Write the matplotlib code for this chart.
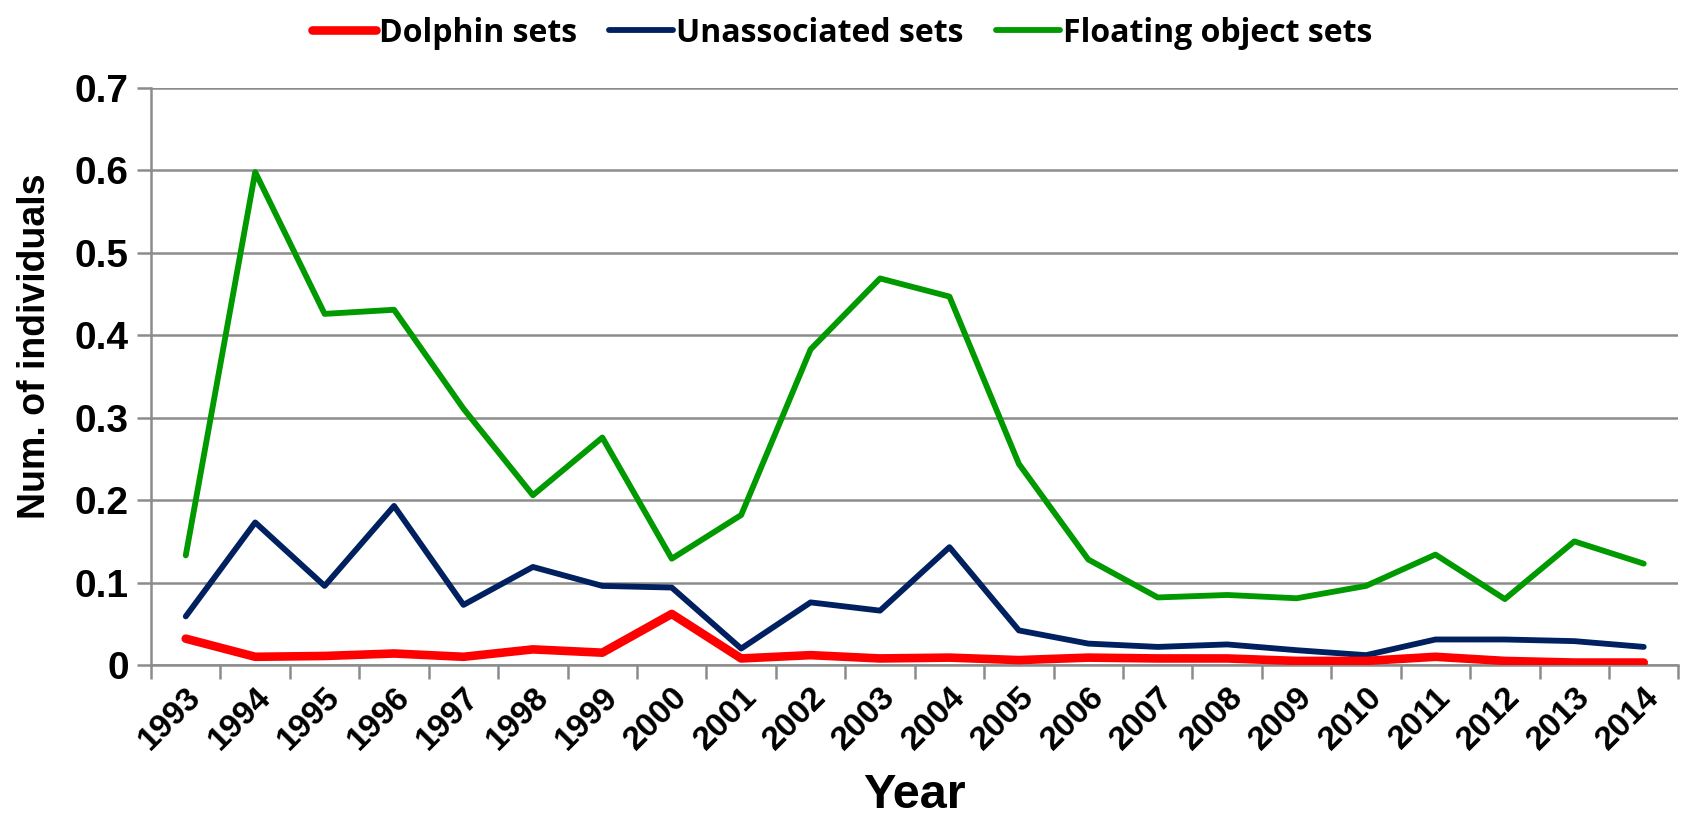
import numpy as np
import matplotlib.pyplot as plt

years = [str(y) for y in range(1993, 2015)]
dolphin = [0.032, 0.010, 0.011, 0.014, 0.010, 0.019, 0.015, 0.062, 0.008, 0.012, 0.008,
           0.009, 0.006, 0.009, 0.008, 0.008, 0.005, 0.005, 0.010, 0.005, 0.003, 0.003]
unassociated = [0.059, 0.173, 0.096, 0.193, 0.073, 0.119, 0.096, 0.094, 0.020, 0.076, 0.066,
                0.143, 0.042, 0.026, 0.022, 0.025, 0.018, 0.012, 0.031, 0.031, 0.029, 0.022]
floating = [0.133, 0.598, 0.426, 0.431, 0.311, 0.206, 0.276, 0.129, 0.182, 0.383, 0.469,
            0.447, 0.244, 0.128, 0.082, 0.085, 0.081, 0.096, 0.134, 0.080, 0.150, 0.123]

plt.rcParams['font.family'] = ['Liberation Sans', 'DejaVu Sans']

fig = plt.figure(figsize=(16.84, 8.15), dpi=100)
ax = fig.add_axes([0.0897, 0.184, 0.907, 0.708])

x = np.arange(len(years))
ax.plot(x, dolphin, color='#ff0000', lw=6.2, solid_capstyle='round', label='Dolphin sets', zorder=5)
ax.plot(x, unassociated, color='#002060', lw=4.2, solid_capstyle='round', label='Unassociated sets', zorder=4)
ax.plot(x, floating, color='#009900', lw=4.2, solid_capstyle='round', label='Floating object sets', zorder=3)

ax.set_xlim(-0.5, len(years) - 0.5)
ax.set_ylim(0, 0.7)
ax.set_yticks(np.arange(0, 0.71, 0.1))
ax.set_yticklabels(['0'] + ['%.1f' % v for v in np.arange(0.1, 0.71, 0.1)],
                   fontsize=28, fontweight='bold')
ax.grid(axis='y', color='#8c8c8c', lw=1.8)
ax.set_axisbelow(True)

# ticks between categories, labels at centres
ax.set_xticks(np.arange(-0.5, len(years), 1.0))
ax.set_xticklabels([])
ax.set_xticks(x, minor=True)
ax.set_xticklabels(years, minor=True, rotation=45, ha='right', va='top',
                   rotation_mode='anchor', fontsize=24, fontweight='bold')
ax.tick_params(axis='x', which='major', length=10, width=1.8, color='#8c8c8c', direction='out')
ax.tick_params(axis='x', which='minor', length=0, pad=12)
ax.tick_params(axis='y', length=10, width=1.8, color='#8c8c8c', pad=6)

for s in ['top', 'right']:
    ax.spines[s].set_visible(False)
for s in ['left', 'bottom']:
    ax.spines[s].set_color('#8c8c8c')
    ax.spines[s].set_linewidth(1.8)

ax.set_xlabel('Year', fontsize=35, fontweight='bold', labelpad=12)
ax.set_ylabel('Num. of individuals', fontsize=27, fontweight='bold')
ax.yaxis.set_label_coords(-0.064, 0.553)

leg = fig.legend(loc='upper center', bbox_to_anchor=(0.5, 1.015), ncol=3, frameon=False,
                 handlelength=2.0, handletextpad=0.1, columnspacing=1.0,
                 prop={'family': 'Open Sans', 'weight': 'bold', 'size': 23})

fig.savefig('out.png', dpi=100)
